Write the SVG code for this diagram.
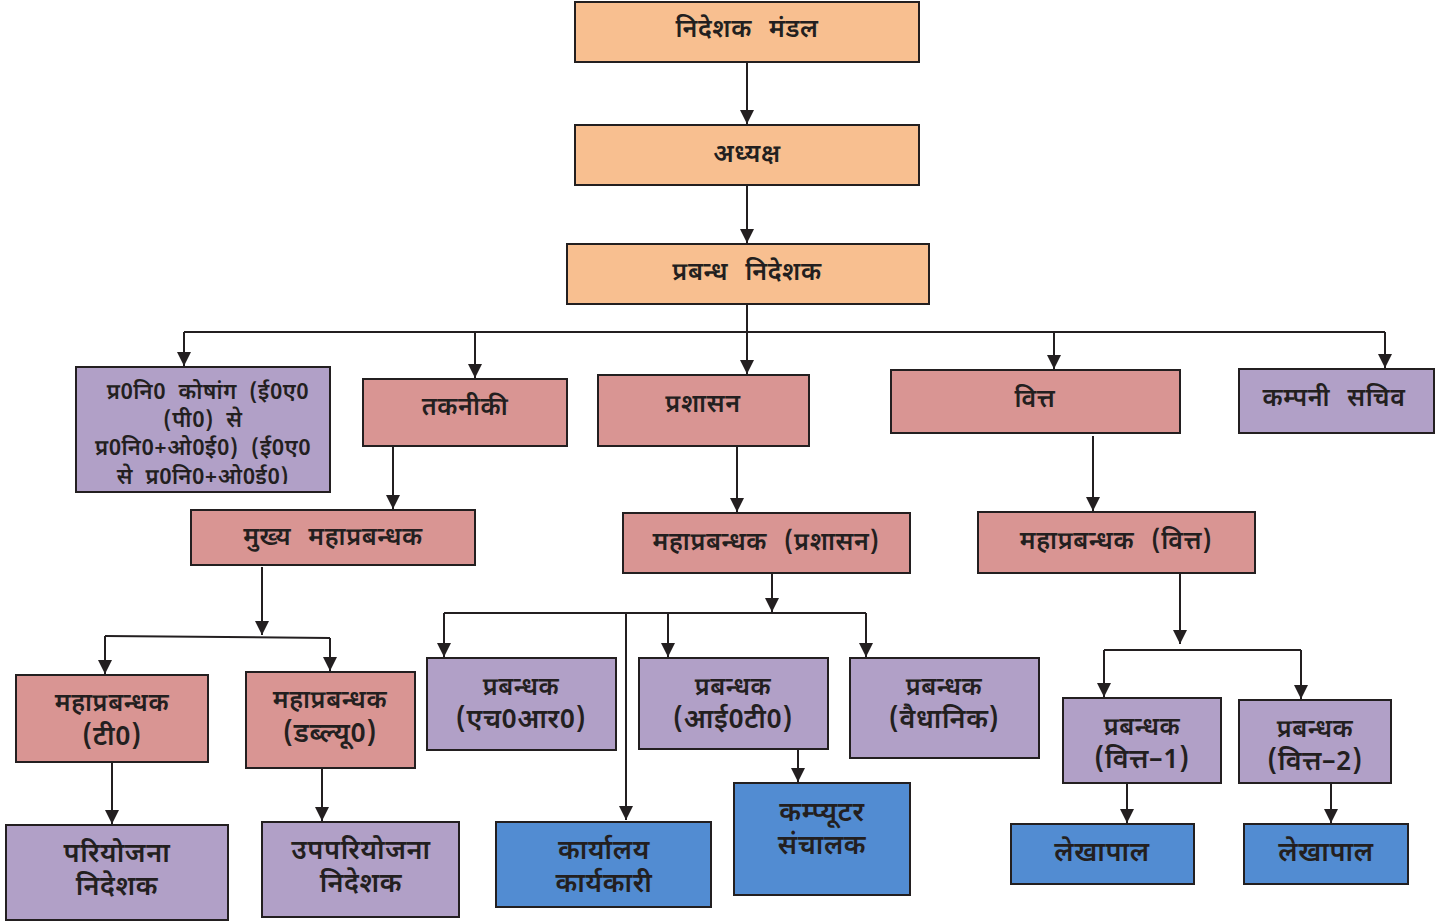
<svg xmlns="http://www.w3.org/2000/svg" width="1452" height="923" viewBox="0 0 1452 923">
<defs>
<style>
.n{stroke:#231F20;stroke-width:2}
.pe{fill:#F8BF90}.pk{fill:#D99593}.pu{fill:#B1A0C7}.bl{fill:#528CD2}
text{font-family:"Noto Sans Devanagari","Lohit Devanagari","Noto Sans",sans-serif;font-weight:600;fill:#231F20;text-anchor:middle;dominant-baseline:central;word-spacing:10px;letter-spacing:0.6px}
.s21{font-size:22px;word-spacing:6px}.s23{font-size:25px}.s25{font-size:27px}
.c{fill:none;stroke:#231F20;stroke-width:2}
</style>
<marker id="ah" markerUnits="userSpaceOnUse" markerWidth="16" markerHeight="16" refX="14" refY="7" orient="auto">
<path d="M0,0 L14,7 L0,14 Z" fill="#231F20"/>
</marker>
<clipPath id="cpA"><rect x="77" y="368" width="252" height="116"/></clipPath>
</defs>
<g id="connectors">
<path class="c" d="M747,62 V124" marker-end="url(#ah)"/>
<path class="c" d="M747,185 V243" marker-end="url(#ah)"/>
<path class="c" d="M747,304 V374" marker-end="url(#ah)"/>
<path class="c" d="M184,332 H1385"/>
<path class="c" d="M184,332 V366" marker-end="url(#ah)"/>
<path class="c" d="M475,332 V378" marker-end="url(#ah)"/>
<path class="c" d="M1054,332 V369" marker-end="url(#ah)"/>
<path class="c" d="M1385,332 V368" marker-end="url(#ah)"/>
<path class="c" d="M393,446 V509" marker-end="url(#ah)"/>
<path class="c" d="M737,446 V512" marker-end="url(#ah)"/>
<path class="c" d="M1093,436 V511" marker-end="url(#ah)"/>
<path class="c" d="M262,567 V635" marker-end="url(#ah)"/>
<path class="c" d="M105,636 L330,638"/>
<path class="c" d="M105,636 V674" marker-end="url(#ah)"/>
<path class="c" d="M330,638 V671" marker-end="url(#ah)"/>
<path class="c" d="M112,762 V824" marker-end="url(#ah)"/>
<path class="c" d="M322,768 V821" marker-end="url(#ah)"/>
<path class="c" d="M772,573 V612" marker-end="url(#ah)"/>
<path class="c" d="M444,613 H866"/>
<path class="c" d="M444,613 V657" marker-end="url(#ah)"/>
<path class="c" d="M668,613 V657" marker-end="url(#ah)"/>
<path class="c" d="M866,613 V657" marker-end="url(#ah)"/>
<path class="c" d="M626,613 V820" marker-end="url(#ah)"/>
<path class="c" d="M798,749 V782" marker-end="url(#ah)"/>
<path class="c" d="M1180,569 V644" marker-end="url(#ah)"/>
<path class="c" d="M1104,650 H1301"/>
<path class="c" d="M1104,650 V697" marker-end="url(#ah)"/>
<path class="c" d="M1301,650 V699" marker-end="url(#ah)"/>
<path class="c" d="M1127,783 V823" marker-end="url(#ah)"/>
<path class="c" d="M1331,783 V823" marker-end="url(#ah)"/>
</g>
<g id="n1"><rect class="n pe" x="575" y="2" width="344" height="60"/><text class="s23" x="747" y="31">निदेशक मंडल</text></g>
<g id="n2"><rect class="n pe" x="575" y="125" width="344" height="60"/><text class="s23" x="747" y="156">अध्यक्ष</text></g>
<g id="n3"><rect class="n pe" x="567" y="244" width="362" height="60"/><text class="s23" x="747" y="274">प्रबन्ध निदेशक</text></g>
<g id="nA"><rect class="n pu" x="76" y="367" width="254" height="125"/>
<g clip-path="url(#cpA)">
<text class="s21" x="208" y="393">प्र0नि0 कोषांग (ई0ए0</text>
<text class="s21" x="203" y="421">(पी0) से</text>
<text class="s21" x="203" y="449">प्र0नि0+ओ0ई0) (ई0ए0</text>
<text class="s21" x="203" y="478">से प्र0नि0+ओ0ई0)</text>
</g></g>
<g id="nT"><rect class="n pk" x="363" y="379" width="204" height="67"/><text class="s23" x="465" y="409">तकनीकी</text></g>
<g id="nP"><rect class="n pk" x="598" y="375" width="211" height="71"/><text class="s23" x="703" y="406">प्रशासन</text></g>
<g id="nV"><rect class="n pk" x="891" y="370" width="289" height="63"/><text class="s23" x="1035" y="401">वित्त</text></g>
<g id="nK"><rect class="n pu" x="1239" y="369" width="195" height="64"/><text class="s23" x="1334" y="400">कम्पनी सचिव</text></g>
<g id="nM1"><rect class="n pk" x="191" y="510" width="284" height="55"/><text class="s23" x="333" y="539">मुख्य महाप्रबन्धक</text></g>
<g id="nM2"><rect class="n pk" x="623" y="513" width="287" height="60"/><text class="s23" x="766" y="544">महाप्रबन्धक (प्रशासन)</text></g>
<g id="nM3"><rect class="n pk" x="978" y="512" width="277" height="61"/><text class="s23" x="1116" y="543">महाप्रबन्धक (वित्त)</text></g>
<g id="nGT"><rect class="n pk" x="16" y="675" width="192" height="87"/><text class="s23" x="112" y="705">महाप्रबन्धक</text><text class="s25" x="112" y="738">(टी0)</text></g>
<g id="nGW"><rect class="n pk" x="246" y="672" width="169" height="96"/><text class="s23" x="330" y="702">महाप्रबन्धक</text><text class="s25" x="330" y="735">(डब्ल्यू0)</text></g>
<g id="nPD"><rect class="n pu" x="6" y="825" width="222" height="95"/><text class="s25" x="117" y="855">परियोजना</text><text class="s25" x="117" y="888">निदेशक</text></g>
<g id="nUPD"><rect class="n pu" x="262" y="822" width="197" height="95"/><text class="s25" x="361" y="852">उपपरियोजना</text><text class="s25" x="361" y="885">निदेशक</text></g>
<g id="nHR"><rect class="n pu" x="427" y="658" width="189" height="92"/><text class="s23" x="521" y="689">प्रबन्धक</text><text class="s25" x="521" y="721">(एच0आर0)</text></g>
<g id="nIT"><rect class="n pu" x="639" y="658" width="189" height="91"/><text class="s23" x="733" y="689">प्रबन्धक</text><text class="s25" x="733" y="721">(आई0टी0)</text></g>
<g id="nVD"><rect class="n pu" x="850" y="658" width="189" height="100"/><text class="s23" x="944" y="689">प्रबन्धक</text><text class="s25" x="944" y="721">(वैधानिक)</text></g>
<g id="nKK"><rect class="n bl" x="496" y="822" width="215" height="85"/><text class="s25" x="604" y="852">कार्यालय</text><text class="s25" x="604" y="885">कार्यकारी</text></g>
<g id="nCS"><rect class="n bl" x="734" y="783" width="176" height="112"/><text class="s25" x="822" y="814">कम्प्यूटर</text><text class="s25" x="822" y="847">संचालक</text></g>
<g id="nF1"><rect class="n pu" x="1063" y="698" width="158" height="85"/><text class="s23" x="1142" y="729">प्रबन्धक</text><text class="s25" x="1142" y="761">(वित्त–1)</text></g>
<g id="nF2"><rect class="n pu" x="1239" y="700" width="152" height="83"/><text class="s23" x="1315" y="731">प्रबन्धक</text><text class="s25" x="1315" y="763">(वित्त–2)</text></g>
<g id="nL1"><rect class="n bl" x="1011" y="824" width="183" height="60"/><text class="s25" x="1102" y="854">लेखापाल</text></g>
<g id="nL2"><rect class="n bl" x="1244" y="824" width="164" height="60"/><text class="s25" x="1326" y="854">लेखापाल</text></g>
</svg>
